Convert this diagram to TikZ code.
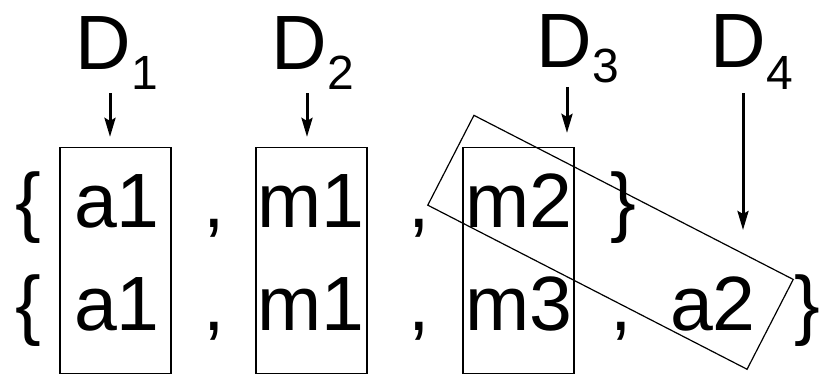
\documentclass[tikz,border=0pt]{standalone}
\usepackage{fontspec}
\setmainfont{Liberation Sans}
\usepackage{tikz}
\usetikzlibrary{arrows.meta,positioning}
\newcommand{\bigsans}{\fontsize{77}{80}\selectfont}
\newcommand{\dlab}[2][19pt]{D\raisebox{-#1}{\fontsize{48}{50}\selectfont #2}}
\tikzset{
  item/.style={anchor=base, font=\bigsans, inner sep=3.3pt},
  colbox/.style={draw, line width=1.2pt, inner sep=0pt, minimum width=111pt,
                 minimum height=226pt},
  slantbox/.style={draw, line width=1.2pt, inner sep=0pt, minimum width=359pt,
                   minimum height=101pt, rotate=-27.2},
  arrow/.style={-{Stealth[length=19pt,width=11pt,inset=3pt]}, line width=3pt,
                shorten >=10pt}
}
\begin{document}
\begin{tikzpicture}[x=1pt,y=-1pt]
  \useasboundingbox (0,0) rectangle (819,374);
  % top row
  \node[item] (lb1) at (28.5,227) {\{};
  \node[item] (a11) at (117,227) {a1};
  \node[item] (c11) at (214,227) {,};
  \node[item] (m11) at (311,227) {m1};
  \node[item] (c12) at (419,227) {,};
  \node[item] (m2)  at (519,227) {m2};
  \node[item] (rb1) at (623,227) {\}};
  % bottom row
  \node[item] (lb2) at (28.5,330) {\{};
  \node[item] (a12) at (117,330) {a1};
  \node[item] (c21) at (214,330) {,};
  \node[item] (m12) at (311,330) {m1};
  \node[item] (c22) at (419,330) {,};
  \node[item] (m3)  at (519,330) {m3};
  \node[item] (c23) at (621,330) {,};
  \node[item] (a2)  at (713,330) {a2};
  \node[item] (rb2) at (807,330) {\}};
  % boxes
  \node[colbox] (box1) at (115.5,260.5) {};
  \node[colbox] (box2) at (311.5,260.5) {};
  \node[colbox] (box3) at (518.5,260.5) {};
  \node[slantbox] (box4) at (610.5,242.3) {};
  % labels
  \node[item] (d1) at (117,70) {\dlab[20pt]{1}};
  \node[item] (d2) at (313,70) {\dlab[20pt]{2}};
  \node[item] (d3) at (578,68) {\dlab[15pt]{3}};
  \node[item] (d4) at (752,68) {\dlab[22pt]{4}};
  \coordinate (d4end) at (743,230);
  \draw[arrow] ([xshift=-7pt]d1.south) -- ([xshift=-7pt]d1.south |- box1.north);
  \draw[arrow] ([xshift=-6pt]d2.south) -- ([xshift=-6pt]d2.south |- box2.north);
  \draw[arrow, shorten >=14pt] ([xshift=-11pt]d3.south) -- ([xshift=-11pt]d3.south |- box3.north);
  \draw[arrow, shorten >=0pt] ([xshift=-9pt]d4.south) -- (d4end);
\end{tikzpicture}
\end{document}
